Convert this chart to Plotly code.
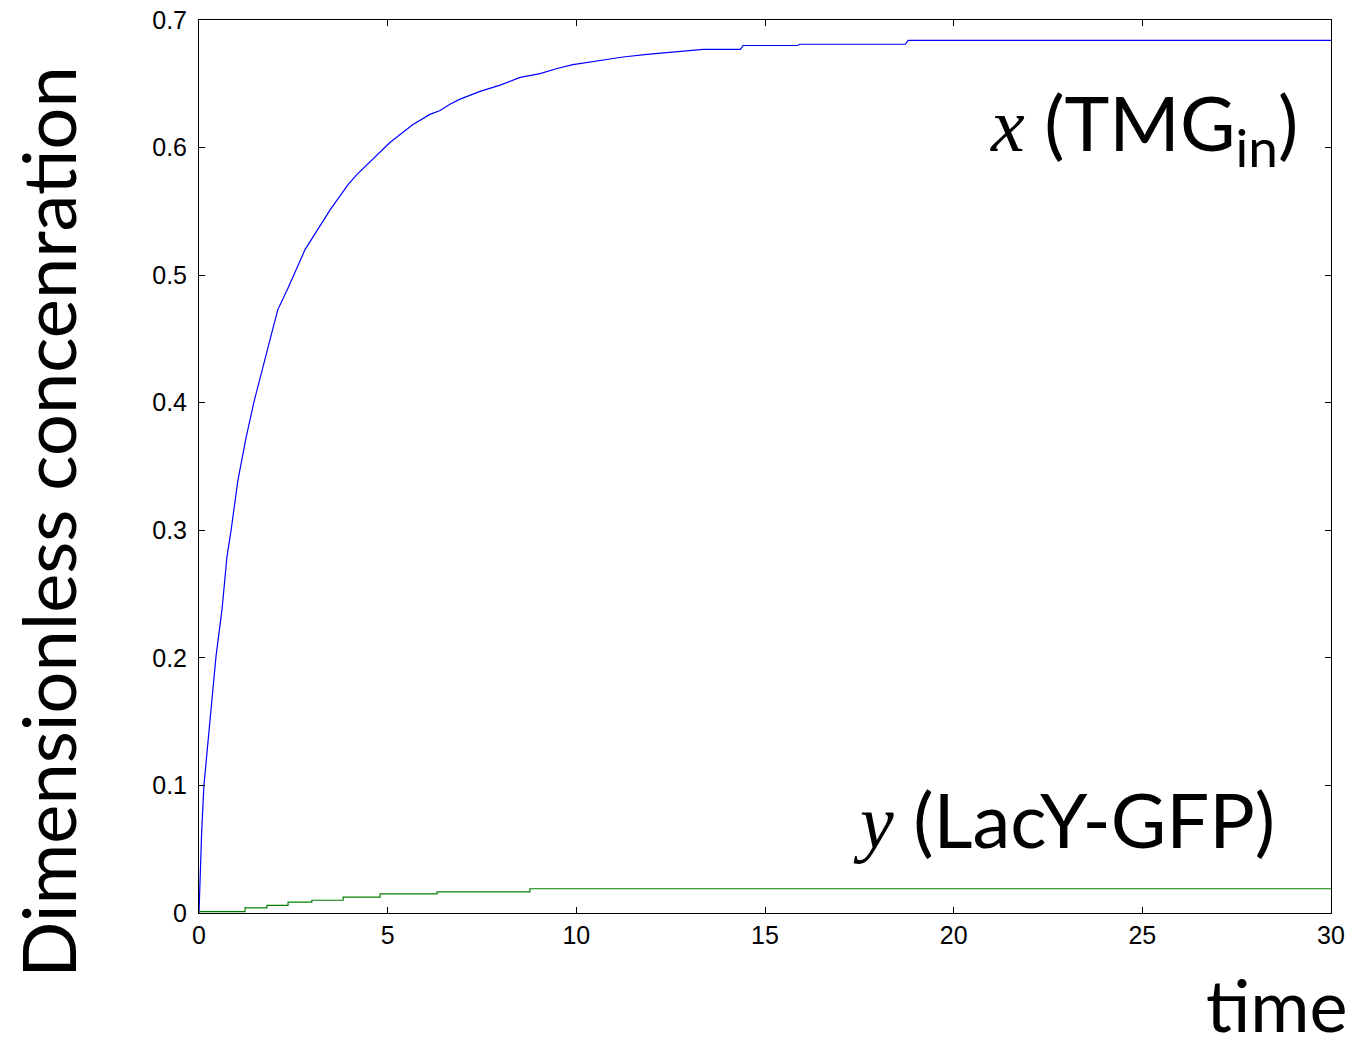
import plotly.graph_objects as go

# x (TMG_in) trajectory: time and dimensionless concentration
x_time = [0, 0.02, 0.07, 0.13, 0.34, 0.45, 0.61, 0.74, 0.85, 1.03, 1.25, 1.46,
          1.93, 2.09, 2.36, 2.81, 3.47, 3.95, 4.19, 4.80, 5.06, 5.67, 6.12,
          6.39, 6.65, 6.92, 7.45, 7.98, 8.51, 9.04, 9.49, 9.91, 10.36, 11.24,
          11.87, 12.56, 13.36, 14.35, 14.42, 15.85, 15.93, 18.72, 18.79, 30]
x_conc = [0, 0.024, 0.063, 0.100, 0.167, 0.201, 0.238, 0.279, 0.300, 0.339,
          0.373, 0.401, 0.455, 0.473, 0.490, 0.520, 0.551, 0.571, 0.579, 0.597,
          0.604, 0.618, 0.626, 0.629, 0.634, 0.638, 0.644, 0.649, 0.655, 0.658,
          0.662, 0.665, 0.667, 0.671, 0.673, 0.675, 0.677, 0.677, 0.680, 0.680,
          0.681, 0.681, 0.684, 0.684]

# y (LacY-GFP) trajectory, piecewise constant
y_time = [0, 1.22, 1.80, 2.36, 2.99, 3.82, 4.80, 6.31, 8.77, 30]
y_conc = [0.001, 0.004, 0.006, 0.0085, 0.010, 0.0125, 0.015, 0.0165, 0.019, 0.019]

x_ticks = [0, 5, 10, 15, 20, 25, 30]
y_ticks = [0, 0.1, 0.2, 0.3, 0.4, 0.5, 0.6, 0.7]
y_tick_text = ["0", "0.1", "0.2", "0.3", "0.4", "0.5", "0.6", "0.7"]

LABEL_FONT = "Lato"
SERIF = "Liberation Serif"

fig = go.Figure()
fig.add_trace(go.Scatter(x=x_time, y=x_conc, mode="lines",
                         line=dict(color="#0000ff", width=1.2),
                         showlegend=False, hoverinfo="skip"))
fig.add_trace(go.Scatter(x=y_time, y=y_conc, mode="lines",
                         line=dict(color="#008000", width=1.2, shape="hv"),
                         showlegend=False, hoverinfo="skip"))

axis_common = dict(
    showline=True, linecolor="black", linewidth=1, mirror="ticks",
    ticks="inside", ticklen=6, tickcolor="black", tickwidth=1,
    showgrid=False, zeroline=False, automargin=False,
    tickfont=dict(family="Liberation Sans", size=25, color="black"),
)

fig.update_layout(
    width=1356, height=1037,
    margin=dict(l=199, r=25, t=20, b=124, autoexpand=False),
    paper_bgcolor="white", plot_bgcolor="white",
    xaxis=dict(range=[0, 30], tickvals=x_ticks, **axis_common),
    yaxis=dict(range=[0, 0.7], tickvals=y_ticks, ticktext=y_tick_text,
               ticklabelstandoff=6, **axis_common),
)

annotations = [
    dict(text="Dimensionless concenration", x=-0.1334, y=0.438,
         xref="paper", yref="paper", textangle=-90, showarrow=False,
         xanchor="center", yanchor="middle",
         font=dict(family=LABEL_FONT, size=74, color="black")),
    dict(text="time", x=0.952, y=-0.1015, xref="paper", yref="paper",
         showarrow=False, xanchor="center", yanchor="middle",
         font=dict(family=LABEL_FONT, size=72, color="black")),
    dict(text=f"<span style='font-family:{SERIF}'><i>x</i></span> (TMG<sub>in</sub>)",
         x=0.9726, y=0.880, xref="paper", yref="paper", showarrow=False,
         xanchor="right", yanchor="middle",
         font=dict(family=LABEL_FONT, size=76, color="black")),
    dict(text=f"<span style='font-family:{SERIF}'><i>y</i></span> (LacY-GFP)",
         x=0.9520, y=0.106, xref="paper", yref="paper", showarrow=False,
         xanchor="right", yanchor="middle",
         font=dict(family=LABEL_FONT, size=76, color="black")),
]
fig.update_layout(annotations=annotations)

fig.write_html("out.html")
